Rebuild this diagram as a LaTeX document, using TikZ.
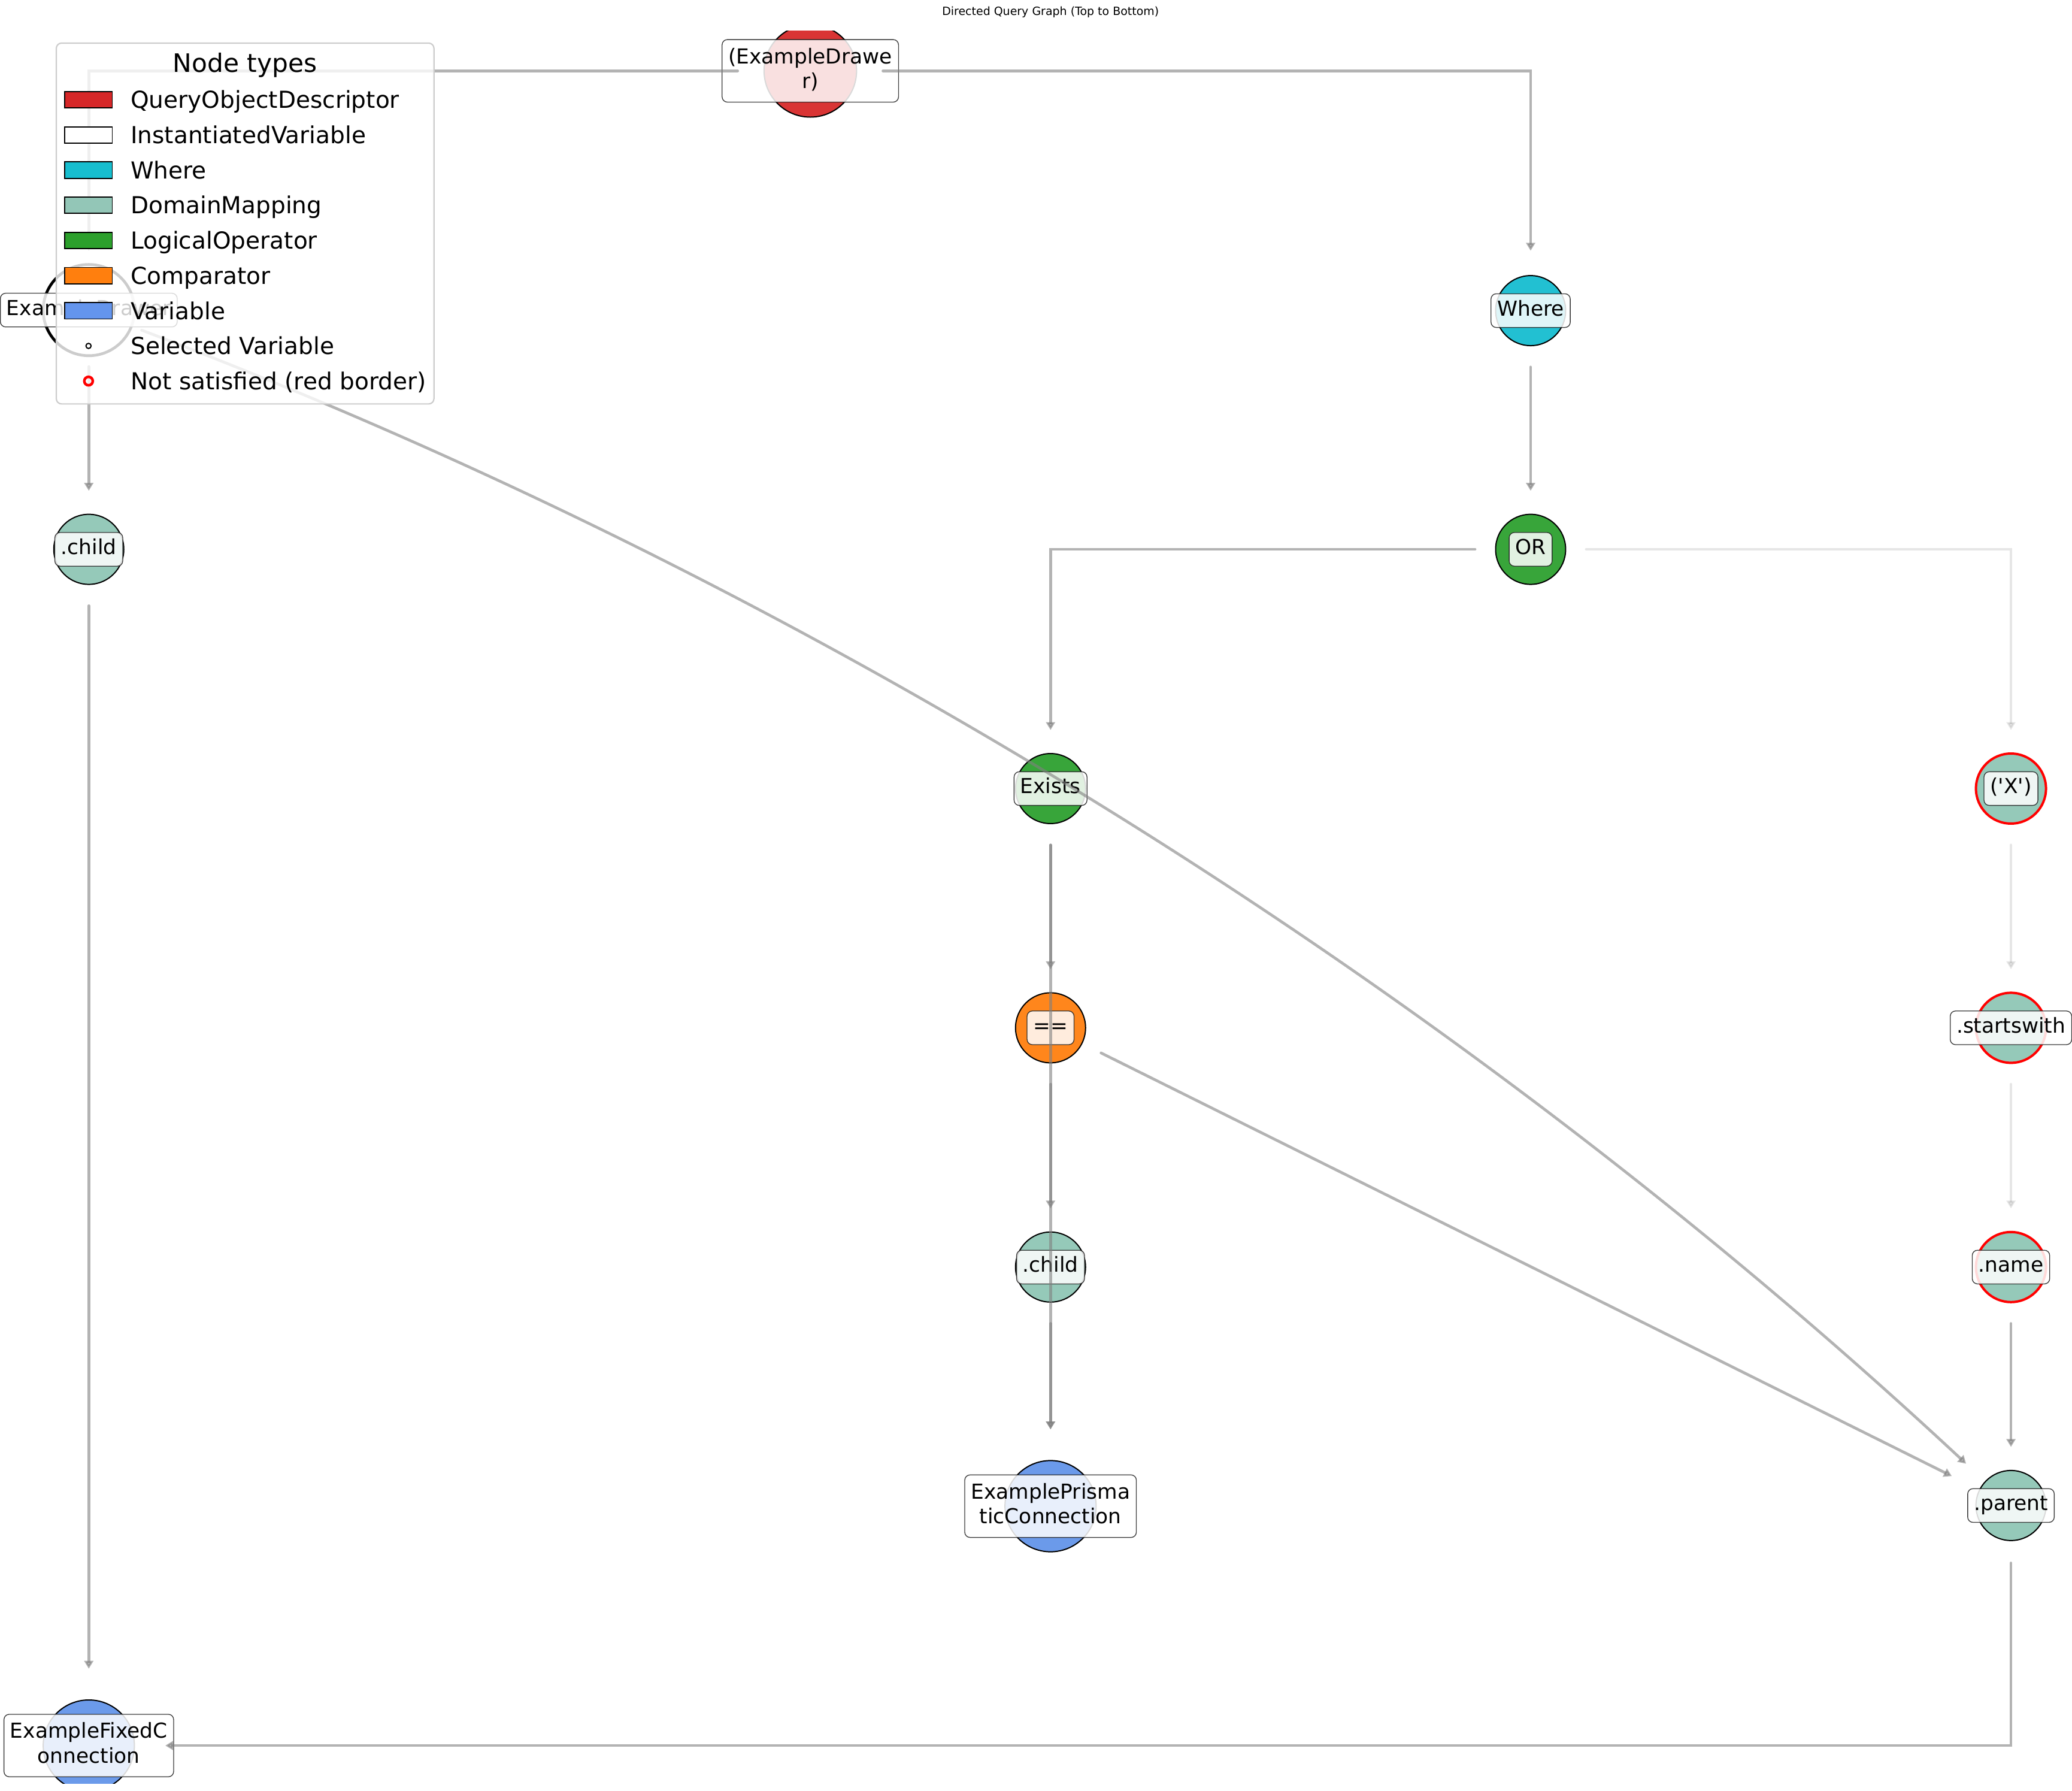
\documentclass[tikz,border=0pt]{standalone}
\usepackage{fontspec}
\newfontfamily\dv{DejaVu Sans}
\usetikzlibrary{arrows.meta}
\definecolor{nQOD}{HTML}{D93434}
\definecolor{nWhere}{HTML}{22C0D2}
\definecolor{nLog}{HTML}{38A53A}
\definecolor{nCmp}{HTML}{FF861C}
\definecolor{nDom}{HTML}{95C9B9}
\definecolor{nVar}{HTML}{6B9AEA}
\definecolor{lQOD}{HTML}{D62728}
\definecolor{lWhere}{HTML}{17BECF}
\definecolor{lLog}{HTML}{2CA02C}
\definecolor{lCmp}{HTML}{FF7F0E}
\definecolor{lDom}{HTML}{93C6B7}
\definecolor{lVar}{HTML}{6495ED}
\newcommand\mystrtop{\rule{0pt}{6.7pt}}
\newcommand\mystrbot{\rule[-2.8pt]{0pt}{2.8pt}}
\begin{document}
\begin{tikzpicture}[x=0.5pt,y=-0.5pt,
  nd/.style={circle, draw=black, line width=0.45pt, inner sep=0pt, outer sep=0pt, minimum size=26.5pt},
  big/.style={minimum size=34.5pt},
  sel/.style={line width=1.05pt},
  unsat/.style={draw=red, line width=0.9pt},
  lblbase/.style={draw=black!85, draw opacity=0.9, line width=0.3pt, fill=white, fill opacity=0.85, text opacity=1,
    rounded corners=2pt, inner xsep=2.35pt, inner ysep=2.35pt, font=\dv\fontsize{7.8}{9.45}\selectfont},
  lbl/.style={lblbase, text height=5.95pt, text depth=2.1pt},
  lbltwo/.style={lblbase, align=center},
  edge/.style={draw=gray, opacity=0.6, line width=1.05pt, line cap=round,
    -{Triangle[length=3pt,width=3.4pt]}, shorten <=8.1pt, shorten >=8.9pt},
  faint/.style={opacity=0.2},
  swatch/.style={rectangle, draw=black, line width=0.4pt, minimum width=18pt, minimum height=6.2pt, inner sep=0pt},
  lgtext/.style={anchor=west, inner sep=0pt, font=\dv\fontsize{8.85}{10}\selectfont, text height=6.46pt, text depth=0pt},
]
\useasboundingbox (0,0) rectangle (1568,1355);

% node circles (clipped to plot area)
\begin{scope}
\clip (0,23.4) rectangle (1568,1349.5);
\node[nd, minimum size=35pt, fill=nQOD] (qod) at (613.2,53.6) {};
\node[nd, big, sel, fill=white] (iv) at (67.2,234.6) {};
\node[nd, fill=nWhere] (where) at (1158.3,235) {};
\node[nd, fill=nLog] (orn) at (1158.3,415.6) {};
\node[nd, fill=nDom] (childL) at (67.2,415.6) {};
\node[nd, fill=nLog] (exists) at (795,596.6) {};
\node[nd, fill=nDom, unsat] (xq) at (1521.8,596.6) {};
\node[nd, fill=nCmp] (eq) at (795,777.6) {};
\node[nd, fill=nDom, unsat] (sw) at (1521.8,777.6) {};
\node[nd, fill=nDom] (childM) at (795,958.6) {};
\node[nd, fill=nDom, unsat] (name) at (1521.8,958.6) {};
\node[nd, big, fill=nVar] (epc) at (795,1139.5) {};
\node[nd, fill=nDom] (parent) at (1521.8,1139) {};
\node[nd, big, fill=nVar] (efc) at (67.2,1320.6) {};
\end{scope}

% labels
\node[lbltwo] (qodl) at (qod) {\mystrtop(ExampleDrawe\\r)\mystrbot};
\node[lbl] (ivl) at (iv) {ExampleDrawer};
\node[lbl] (wherel) at (where) {Where};
\node[lbl] (ornl) at (orn) {OR};
\node[lbl] (childLl) at (childL) {.child};
\node[lbl] (existsl) at (exists) {Exists};
\node[lbl] (xql) at (xq) {('X')};
\node[lbl] (eql) at (eq) {==};
\node[lbl] (swl) at (sw) {.startswith};
\node[lbl] (childMl) at (childM) {.child};
\node[lbl] (namel) at (name) {.name};
\node[lbltwo] (epcl) at (epc) {\mystrtop ExamplePrisma\\ticConnection\mystrbot};
\node[lbl] (parentl) at (parent) {.parent};
\node[lbltwo] (efcl) at (efc) {\mystrtop ExampleFixedC\\onnection\mystrbot};

% edges
\draw[edge, shorten <=10pt, shorten >=9.4pt] (qod) -| (where);
\draw[edge, shorten <=10pt, shorten >=5.1pt] (qod) -| (iv);
\draw[edge, shorten <=4.15pt] (iv) -- (childL);
\draw[edge, shorten <=4.15pt, shorten >=9.95pt] (iv) .. controls (611.2,441) and (1096.1,742.5) .. (parent);
\draw[edge] (where) -- (orn);
\draw[edge, shorten <=7.8pt] (orn) -| (exists);
\draw[edge, faint, shorten <=7.8pt] (orn) -| (xq);
\draw[edge] (exists) -- (eq);
\draw[edge, shorten >=11.8pt] (exists) -- (epc);
\draw[edge] (eq) -- (childM);
\draw[edge, shorten >=11.75pt] (eq) -- (parent);
\draw[edge, shorten >=11.8pt] (childM) -- (epc);
\draw[edge, faint] (xq) -- (sw);
\draw[edge, faint] (sw) -- (name);
\draw[edge] (name) -- (parent);
\draw[edge, shorten <=8.5pt, shorten >=11.7pt] (parent) |- (efc);
\draw[edge, shorten >=11.8pt] (childL) -- (efc);

% legend
\fill[white, opacity=0.8, rounded corners=2pt] (42.6,32.6) rectangle (328.4,305.6);
\draw[black!20, line width=0.5pt, rounded corners=2pt] (42.6,32.6) rectangle (328.4,305.6);
\node[inner sep=0pt, font=\dv\fontsize{9.6}{11}\selectfont, text height=7pt, text depth=0pt] (lgtitle) at (185.5,47.5) {Node types};
\node[swatch, fill=lQOD] (s1) at (67,75.5) {};
\node[swatch, fill=white] (s2) at (67,102.1) {};
\node[swatch, fill=lWhere] (s3) at (67,128.7) {};
\node[swatch, fill=lDom] (s4) at (67,155.3) {};
\node[swatch, fill=lLog] (s5) at (67,181.9) {};
\node[swatch, fill=lCmp] (s6) at (67,208.5) {};
\node[swatch, fill=lVar] (s7) at (67,235.1) {};
\node[circle, draw=black, line width=0.45pt, inner sep=0pt, minimum size=1.95pt] (s8) at (67,261.7) {};
\node[circle, draw=red, line width=1pt, inner sep=0pt, minimum size=3.2pt] (s9) at (67,288.3) {};
\node[lgtext] (t1) at (98.5,75.5) {QueryObjectDescriptor};
\node[lgtext] (t2) at (98.5,102.1) {InstantiatedVariable};
\node[lgtext] (t3) at (98.5,128.7) {Where};
\node[lgtext] (t4) at (98.5,155.3) {DomainMapping};
\node[lgtext] (t5) at (98.5,181.9) {LogicalOperator};
\node[lgtext] (t6) at (98.5,208.5) {Comparator};
\node[lgtext] (t7) at (98.5,235.1) {Variable};
\node[lgtext] (t8) at (98.5,261.7) {Selected Variable};
\node[lgtext] (t9) at (98.5,288.3) {Not satisfied (red border)};

% title
\node[inner sep=0pt, font=\dv\fontsize{4.3}{5}\selectfont, text height=3.14pt, text depth=0pt] (title) at (795,8.3) {Directed Query Graph (Top to Bottom)};
\end{tikzpicture}
\end{document}
